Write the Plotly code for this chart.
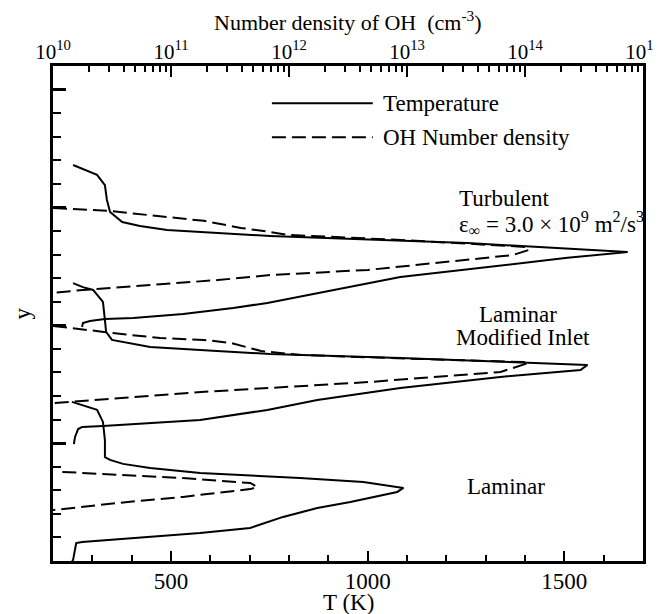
import plotly.graph_objects as go

# ---------------- data ----------------
# Temperature profiles: T in K versus y (arbitrary units)
turb_T = [251, 312, 332, 337, 345, 376, 421, 490, 752, 1253, 1661, 1508, 1083, 912, 745, 658, 531, 404, 332, 294, 276, 274]
turb_T_y = [1.680, 1.638, 1.595, 1.532, 1.481, 1.438, 1.421, 1.404, 1.379, 1.349, 1.311, 1.286, 1.205, 1.150, 1.095, 1.073, 1.048, 1.031, 1.027, 1.018, 1.010, 0.993]

mod_T = [251, 276, 302, 327, 332, 335, 350, 447, 617, 752, 1083, 1381, 1559, 1541, 1337, 1083, 872, 745, 574, 327, 274, 264, 256, 253]
mod_T_y = [1.179, 1.162, 1.150, 1.099, 1.022, 0.972, 0.938, 0.908, 0.891, 0.878, 0.861, 0.844, 0.832, 0.810, 0.781, 0.734, 0.683, 0.641, 0.598, 0.573, 0.569, 0.560, 0.526, 0.496]

lam_T = [248, 312, 327, 332, 332, 345, 378, 447, 574, 828, 989, 1091, 1075, 956, 872, 785, 701, 574, 274, 259, 251, 248]
lam_T_y = [0.675, 0.641, 0.590, 0.513, 0.441, 0.429, 0.412, 0.395, 0.373, 0.352, 0.335, 0.310, 0.293, 0.250, 0.225, 0.187, 0.140, 0.119, 0.081, 0.076, 0.004, 0.0]

# OH number density (cm^-3) versus y
turb_OH = [1.0e10, 3.0e10, 1.9e11, 3.9e11, 6.9e11, 1.0e12, 8.9e12, 1.05e14, 1.07e14, 7.9e13, 4.7e12, 6.9e11, 2.5e11, 6.6e10, 1.8e10, 1.0e10]
turb_OH_y = [1.498, 1.485, 1.443, 1.413, 1.396, 1.383, 1.362, 1.332, 1.319, 1.298, 1.235, 1.213, 1.192, 1.171, 1.150, 1.137]

mod_OH = [1.0e10, 1.8e10, 2.7e10, 4.5e10, 8.1e10, 1.9e11, 3.2e11, 5.8e11, 1.26e12, 1.3e13, 9.8e13, 1.07e14, 6.2e13, 4.7e12, 1.8e11, 1.0e10]
mod_OH_y = [0.997, 0.984, 0.972, 0.959, 0.946, 0.938, 0.925, 0.891, 0.874, 0.857, 0.844, 0.840, 0.802, 0.759, 0.717, 0.670]

lam_OH = [1.2e10, 3.5e10, 1.26e11, 3.6e11, 4.7e11, 5.4e11, 4.7e11, 1.26e11, 3.5e10, 1.0e10]
lam_OH_y = [0.378, 0.365, 0.352, 0.335, 0.331, 0.314, 0.305, 0.272, 0.246, 0.216]

# axis ticks
T_ticks = [500, 1000, 1500]
OH_decades = [10, 11, 12, 13, 14, 15]
OH_ticktext = ["10<sup>%d</sup>" % d for d in OH_decades]

FONT = "Liberation Serif"
LW = 2
DASH = "14px,6px"

fig = go.Figure()
for xs, ys in [(turb_T, turb_T_y), (mod_T, mod_T_y), (lam_T, lam_T_y)]:
    fig.add_trace(go.Scatter(x=xs, y=ys, mode="lines", xaxis="x", yaxis="y",
                             line=dict(color="black", width=LW), showlegend=False))
for xs, ys in [(turb_OH, turb_OH_y), (mod_OH, mod_OH_y), (lam_OH, lam_OH_y)]:
    fig.add_trace(go.Scatter(x=xs, y=ys, mode="lines", xaxis="x2", yaxis="y",
                             line=dict(color="black", width=LW, dash=DASH), showlegend=False))

minor_OH = [k * 10.0 ** d for d in OH_decades[:-1] for k in range(2, 10)]

# the page body has an 8px margin, so the figure is sized to fit the window
fig.update_layout(
    width=654, height=606,
    margin=dict(l=45, r=19, t=58, b=53, autoexpand=False),
    paper_bgcolor="white", plot_bgcolor="white",
    font=dict(family=FONT, size=23, color="black"),
    xaxis=dict(range=[200, 1700], tickmode="array", tickvals=T_ticks, automargin=False,
               ticks="inside", ticklen=10, tickwidth=2, tickcolor="black",
               minor=dict(dtick=100, tick0=0, ticks="inside", ticklen=6, tickwidth=1.5, tickcolor="black"),
               showline=True, linewidth=3, linecolor="black", mirror=True,
               showgrid=False, zeroline=False, ticklabelstandoff=-3,
               tickfont=dict(family=FONT, size=23)),
    xaxis2=dict(type="log", range=[10, 15], overlaying="x", side="top", anchor="y", automargin=False,
                tickmode="array", tickvals=[10.0 ** d for d in OH_decades], ticktext=OH_ticktext,
                ticks="inside", ticklen=11, tickwidth=2, tickcolor="black",
                minor=dict(tickmode="array", tickvals=minor_OH, ticks="inside", ticklen=6,
                           tickwidth=1.5, tickcolor="black", showgrid=False),
                showline=True, linewidth=3, linecolor="black",
                showgrid=False, zeroline=False, ticklabelstandoff=-4,
                tickfont=dict(family=FONT, size=21)),
    yaxis=dict(range=[0, 2.1], tick0=0, dtick=0.5, showticklabels=False, automargin=False,
               ticks="inside", ticklen=13, tickwidth=3, tickcolor="black",
               minor=dict(dtick=0.1, tick0=0, ticks="inside", ticklen=8, tickwidth=1.5, tickcolor="black"),
               showline=True, linewidth=3, linecolor="black", mirror=True,
               showgrid=False, zeroline=False),
)

# legend drawn as shapes + text (paper coordinates)
fig.add_shape(type="line", xref="paper", yref="paper", x0=0.371, x1=0.542, y0=0.925, y1=0.925,
              line=dict(color="black", width=LW))
fig.add_shape(type="line", xref="paper", yref="paper", x0=0.371, x1=0.542, y0=0.856, y1=0.856,
              line=dict(color="black", width=LW, dash=DASH))
ann = [
    (0.556, 0.925, "Temperature", "left", 0, 23),
    (0.556, 0.856, "OH Number density", "left", 0, 23),
    (0.685, 0.733, "Turbulent", "left", 0, 23),
    (0.685, 0.681, "ε<sub>∞</sub> = 3.0 × 10<sup>9</sup> m<sup>2</sup>/s<sup>3</sup>", "left", 0, 23),
    (0.788, 0.497, "Laminar", "center", 0, 23),
    (0.797, 0.4525, "Modified Inlet", "center", 0, 23),
    (0.768, 0.1495, "Laminar", "center", 0, 23),
    # axis titles
    (0.5, -0.084, "T (K)", "center", 0, 23),
    (0.5, 1.090, "Number density of OH  (cm<sup>-3</sup>)", "center", 0, 22),
    (-0.051, 0.5, "y", "center", -90, 23),
]
for x, y, t, xa, rot, fs in ann:
    fig.add_annotation(x=x, y=y, xref="paper", yref="paper", text=t, showarrow=False,
                       xanchor=xa, yanchor="middle", textangle=rot,
                       font=dict(family=FONT, size=fs, color="black"))

fig.write_html("out.html")
